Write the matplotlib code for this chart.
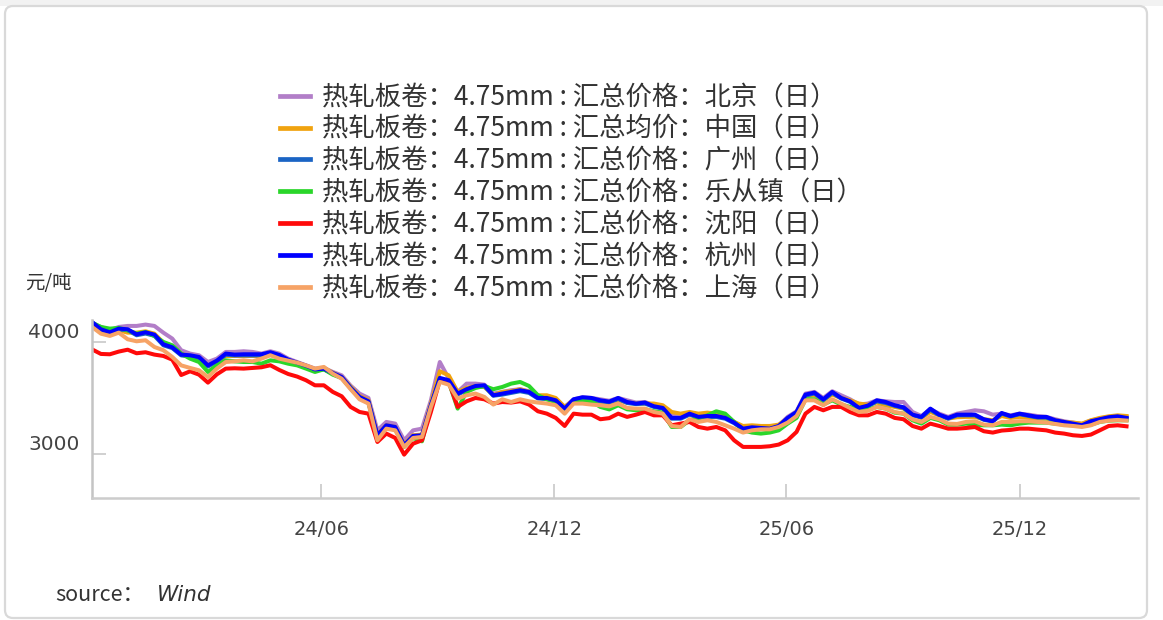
import matplotlib
matplotlib.use("Agg")
import matplotlib.pyplot as plt
import matplotlib.transforms as mtransforms
from matplotlib.lines import Line2D
from matplotlib.patches import FancyBboxPatch, Rectangle
import pandas as pd

plt.rcParams["font.family"] = ["Noto Sans CJK SC", "DejaVu Sans"]

# weekly samples
dates = pd.date_range("2023-12-04", periods=117, freq="7D")

beijing = [
    4164, 4134, 4104, 4134, 4143, 4143, 4155, 4143, 4083, 4030, 3926, 3896, 3881, 3821, 3851, 3911, 3911, 3917, 3911, 3896, 3917, 3896, 3851, 3821, 3791, 3762, 3768, 3732, 3702, 3610,
    3539, 3500, 3211, 3286, 3271, 3122, 3211, 3226, 3479, 3821, 3673, 3554, 3628, 3628, 3619, 3539, 3554, 3569, 3578, 3560, 3518, 3509, 3488, 3420, 3488, 3506, 3500, 3488, 3475,
    3500, 3479, 3459, 3464, 3435, 3420, 3345, 3339, 3369, 3351, 3360, 3351, 3331, 3286, 3241, 3241, 3241, 3241, 3256, 3331, 3381, 3539, 3554, 3500, 3560, 3524, 3488, 3441, 3450,
    3479, 3470, 3464, 3464, 3375, 3339, 3399, 3360, 3331, 3360, 3375, 3390, 3381, 3351, 3360, 3345, 3360, 3351, 3339, 3331, 3310, 3292, 3280, 3268, 3298, 3316, 3331, 3339, 3331,
]
china_avg = [
    4155, 4104, 4083, 4104, 4083, 4083, 4095, 4074, 3994, 3964, 3896, 3866, 3857, 3791, 3821, 3875, 3875, 3875, 3875, 3875, 3896, 3875, 3836, 3815, 3785, 3755, 3768, 3726, 3687, 3600,
    3518, 3479, 3173, 3256, 3241, 3084, 3167, 3173, 3450, 3738, 3702, 3554, 3589, 3607, 3598, 3524, 3554, 3560, 3578, 3554, 3524, 3524, 3500, 3420, 3479, 3488, 3479, 3464, 3452,
    3479, 3459, 3450, 3450, 3450, 3435, 3375, 3360, 3375, 3360, 3369, 3360, 3331, 3286, 3250, 3256, 3250, 3250, 3262, 3316, 3369, 3518, 3524, 3479, 3530, 3500, 3479, 3450, 3440,
    3459, 3435, 3420, 3405, 3351, 3322, 3375, 3345, 3316, 3328, 3331, 3331, 3310, 3301, 3339, 3322, 3331, 3322, 3316, 3316, 3301, 3286, 3280, 3271, 3301, 3322, 3336, 3345, 3339,
]
guangzhou = [
    4170, 4105, 4080, 4110, 4105, 4060, 4075, 4055, 3970, 3945, 3880, 3870, 3855, 3780, 3825, 3885, 3880, 3880, 3880, 3880, 3900, 3875, 3835, 3810, 3780, 3750, 3755, 3715, 3680, 3585,
    3500, 3465, 3160, 3250, 3235, 3075, 3155, 3160, 3430, 3670, 3650, 3530, 3570, 3600, 3605, 3520, 3530, 3545, 3560, 3545, 3495, 3490, 3470, 3400, 3480, 3500, 3490, 3470, 3460,
    3490, 3455, 3445, 3450, 3420, 3405, 3315, 3315, 3350, 3325, 3330, 3330, 3315, 3275, 3220, 3230, 3225, 3220, 3245, 3315, 3370, 3520, 3540, 3480, 3545, 3495, 3465, 3405, 3425,
    3470, 3455, 3430, 3410, 3345, 3325, 3395, 3345, 3315, 3345, 3345, 3345, 3305, 3290, 3360, 3335, 3355, 3340, 3325, 3325, 3295, 3280, 3265, 3250, 3285, 3305, 3320, 3330, 3315,
]
lecong = [
    4173, 4134, 4119, 4125, 4104, 4074, 4089, 4053, 4000, 3970, 3896, 3851, 3821, 3732, 3791, 3836, 3827, 3821, 3821, 3806, 3836, 3827, 3806, 3791, 3762, 3732, 3756, 3708, 3678, 3590,
    3500, 3459, 3143, 3241, 3226, 3063, 3143, 3113, 3420, 3673, 3643, 3405, 3554, 3589, 3607, 3578, 3598, 3628, 3643, 3607, 3524, 3488, 3464, 3375, 3459, 3479, 3470, 3420, 3398,
    3435, 3399, 3390, 3399, 3381, 3369, 3241, 3241, 3301, 3316, 3345, 3381, 3360, 3286, 3211, 3191, 3182, 3191, 3211, 3271, 3322, 3488, 3488, 3441, 3479, 3441, 3420, 3390, 3395,
    3420, 3405, 3369, 3360, 3301, 3271, 3322, 3301, 3262, 3262, 3271, 3262, 3256, 3256, 3262, 3256, 3271, 3280, 3280, 3280, 3271, 3262, 3256, 3250, 3262, 3286, 3298, 3301, 3301,
]
shenyang = [
    3934, 3893, 3890, 3914, 3931, 3899, 3908, 3887, 3875, 3842, 3705, 3738, 3708, 3637, 3711, 3762, 3765, 3762, 3768, 3774, 3792, 3750, 3714, 3691, 3658, 3613, 3613, 3554, 3515, 3420,
    3375, 3360, 3107, 3182, 3143, 2994, 3092, 3122, 3375, 3658, 3643, 3420, 3470, 3500, 3488, 3450, 3464, 3459, 3470, 3441, 3381, 3360, 3322, 3250, 3360, 3351, 3351, 3310, 3320,
    3360, 3331, 3351, 3375, 3345, 3345, 3256, 3271, 3286, 3241, 3226, 3241, 3211, 3122, 3063, 3063, 3063, 3069, 3084, 3122, 3197, 3360, 3420, 3390, 3420, 3420, 3375, 3345, 3345,
    3375, 3360, 3322, 3310, 3250, 3226, 3271, 3250, 3226, 3226, 3232, 3241, 3203, 3191, 3209, 3215, 3226, 3226, 3218, 3211, 3191, 3182, 3167, 3161, 3173, 3211, 3250, 3256, 3247,
]
hangzhou = [
    4179, 4113, 4086, 4119, 4113, 4068, 4086, 4065, 3979, 3952, 3887, 3881, 3866, 3791, 3833, 3896, 3887, 3890, 3890, 3890, 3908, 3884, 3842, 3815, 3788, 3755, 3761, 3723, 3687, 3590,
    3509, 3470, 3167, 3256, 3241, 3078, 3161, 3167, 3435, 3679, 3658, 3539, 3578, 3607, 3613, 3524, 3539, 3554, 3569, 3554, 3500, 3500, 3479, 3405, 3488, 3506, 3500, 3479, 3467,
    3500, 3464, 3450, 3459, 3426, 3411, 3322, 3322, 3360, 3331, 3339, 3339, 3322, 3280, 3226, 3238, 3232, 3226, 3250, 3322, 3375, 3530, 3548, 3488, 3554, 3500, 3470, 3411, 3432,
    3479, 3464, 3435, 3417, 3351, 3331, 3405, 3351, 3322, 3351, 3351, 3351, 3310, 3292, 3366, 3339, 3360, 3345, 3331, 3331, 3301, 3286, 3271, 3256, 3292, 3310, 3328, 3336, 3322,
]
shanghai = [
    4134, 4074, 4054, 4083, 4024, 4006, 4015, 3955, 3926, 3866, 3791, 3768, 3747, 3687, 3762, 3821, 3827, 3836, 3827, 3851, 3881, 3851, 3833, 3815, 3791, 3762, 3777, 3717, 3672, 3578,
    3488, 3450, 3122, 3226, 3211, 3063, 3143, 3152, 3420, 3643, 3619, 3494, 3524, 3539, 3509, 3441, 3488, 3464, 3488, 3470, 3459, 3450, 3435, 3360, 3450, 3450, 3441, 3435, 3425,
    3450, 3411, 3405, 3405, 3375, 3360, 3250, 3241, 3310, 3286, 3301, 3286, 3256, 3226, 3191, 3211, 3220, 3220, 3241, 3280, 3339, 3479, 3479, 3435, 3488, 3450, 3411, 3375, 3385,
    3420, 3405, 3375, 3360, 3310, 3286, 3331, 3310, 3271, 3268, 3286, 3292, 3262, 3256, 3286, 3286, 3292, 3292, 3286, 3280, 3268, 3256, 3250, 3241, 3256, 3286, 3298, 3304, 3298,
]

labels = [
    "热轧板卷：4.75mm : 汇总价格：北京（日）",
    "热轧板卷：4.75mm : 汇总均价：中国（日）",
    "热轧板卷：4.75mm : 汇总价格：广州（日）",
    "热轧板卷：4.75mm : 汇总价格：乐从镇（日）",
    "热轧板卷：4.75mm : 汇总价格：沈阳（日）",
    "热轧板卷：4.75mm : 汇总价格：杭州（日）",
    "热轧板卷：4.75mm : 汇总价格：上海（日）",
]
series = [beijing, china_avg, guangzhou, lecong, shenyang, hangzhou, shanghai]
colors = ["#b27ec8", "#f0a30f", "#1a64c4", "#2ad62a", "#ff0a0a", "#0000ff", "#f6a366"]

xticks = pd.to_datetime(["2024-06-01", "2024-12-01", "2025-06-01", "2025-12-01"])
xticklabels = ["24/06", "24/12", "25/06", "25/12"]
yticks = [3000, 4000]

W, H = 1163, 620
fig = plt.figure(figsize=(W / 100, H / 100), dpi=100)

# card frame, drawn under the axes
px = mtransforms.IdentityTransform()
fig.patches.append(Rectangle((0, 614), W, 6, transform=px, fc="#f2f2f2", ec="none", zorder=-2))
fig.patches.append(FancyBboxPatch((5, 2), 1142, 612, boxstyle="round,pad=0,rounding_size=8",
                                  transform=px, fc="white", ec="#d9d9d9", lw=1.6, zorder=-1))

ax = fig.add_axes([92 / W, 1 - 498 / H, (1138 - 92) / W, (498 - 320) / H])
ax.set_zorder(2)
ax.set_facecolor("none")
for vals, c in zip(series, colors):
    ax.plot(dates, vals, color=c, lw=2.9, solid_joinstyle="round")

ax.set_xlim(pd.Timestamp("2023-12-04"), pd.Timestamp("2026-03-04"))
ax.set_ylim(2607, 4196)
ax.set_xticks(xticks)
ax.set_xticklabels(xticklabels)
ax.set_yticks(yticks)
ax.set_yticklabels([str(v) for v in yticks])
for s in ["top", "right"]:
    ax.spines[s].set_visible(False)
ax.spines["left"].set_color("#c4c4c4")
ax.spines["bottom"].set_color("#cccccc")
ax.spines["left"].set_linewidth(1.8)
ax.spines["bottom"].set_linewidth(1.8)
ax.tick_params(axis="both", direction="in", length=10, width=1.2, color="#c8c8c8",
               labelcolor="#444444")
ax.tick_params(axis="x", pad=16, labelsize=14)
ax.tick_params(axis="y", pad=9, labelsize=14.5)
for t in ax.get_xticklabels() + ax.get_yticklabels():
    t.set_fontfamily(["DejaVu Sans"])
shift = mtransforms.ScaledTranslation(0, 0.11, fig.dpi_scale_trans)
for t in ax.get_yticklabels():
    t.set_transform(t.get_transform() + shift)

# legend
handles = [Line2D([], [], color=c, lw=3.4) for c in colors]
fig.legend(handles, labels, loc="upper left", bbox_to_anchor=(280 / W, 1 - 84 / H),
           frameon=False, prop={"size": 19, "weight": "medium"}, handlelength=1.14,
           handletextpad=0.45, labelspacing=0.183, borderpad=0, borderaxespad=0,
           labelcolor="#333333")

fig.text(25 / W, 1 - 283 / H, "元/吨", fontsize=14, color="#333333", va="center", ha="left")
fig.text(55 / W, 1 - 595 / H, "source：", fontsize=15.5, color="#333333", va="center", ha="left")
fig.text(157 / W, 1 - 595 / H, "Wind", fontsize=15.5, color="#333333", va="center", ha="left",
         style="italic", family=["DejaVu Sans"])

fig.savefig("out.png", dpi=100)
